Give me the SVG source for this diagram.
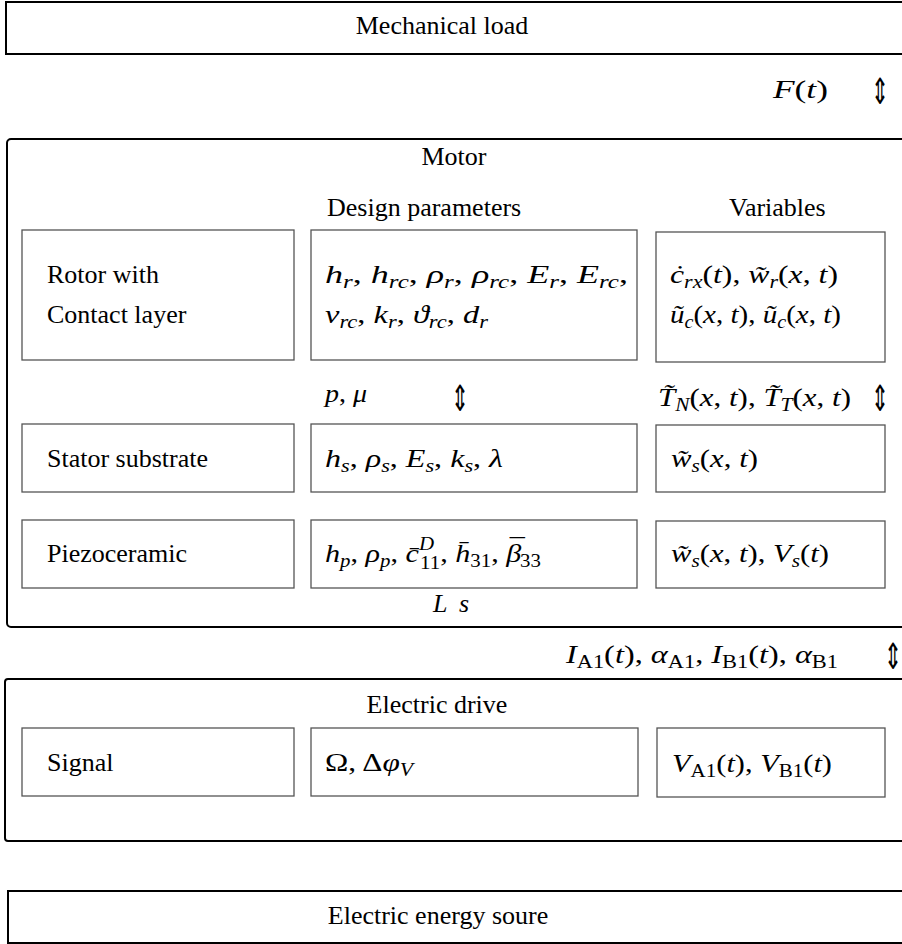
<svg xmlns="http://www.w3.org/2000/svg" width="902" height="944" viewBox="0 0 902 944" font-family="Liberation Serif, Times New Roman, serif">
<style>
.t{font-size:26px;fill:#000}
.m{font-size:26px;font-style:italic;fill:#000}
.u{font-style:normal}
.s{font-size:18px}
.outer{fill:#fff;stroke:#000;stroke-width:2}
.inner{fill:none;stroke:#555;stroke-width:1.3}
.arr{font-family:"DejaVu Sans",sans-serif;font-size:24px;fill:#000;text-anchor:middle}
</style>
<rect width="902" height="944" fill="#fff"/>

<g id="mechanical-load">
<rect class="outer" x="6" y="2" width="910" height="52"/>
<text class="t" x="442" y="34" text-anchor="middle">Mechanical load</text>
</g>

<g id="motor">
<rect class="outer" x="7" y="139" width="910" height="488" rx="4"/>
<text class="t" x="454" y="165" text-anchor="middle">Motor</text>
<text class="t" x="327" y="216">Design parameters</text>
<text class="t" x="729" y="216">Variables</text>
</g>

<g id="rotor">
<rect class="inner" x="22" y="230" width="272" height="130"/>
<text class="t" x="47" y="283">Rotor with</text>
<text class="t" x="47" y="323">Contact layer</text>
</g>
<g id="rotor-parameters">
<rect class="inner" x="311" y="230" width="326" height="130"/>
<text class="m" x="325" y="283" textLength="303" lengthAdjust="spacingAndGlyphs">h<tspan class="s" dy="5">r</tspan><tspan class="u" dy="-5">, </tspan>h<tspan class="s" dy="5">rc</tspan><tspan class="u" dy="-5">, </tspan>ρ<tspan class="s" dy="5">r</tspan><tspan class="u" dy="-5">, </tspan>ρ<tspan class="s" dy="5">rc</tspan><tspan class="u" dy="-5">, </tspan>E<tspan class="s" dy="5">r</tspan><tspan class="u" dy="-5">, </tspan>E<tspan class="s" dy="5">rc</tspan><tspan class="u" dy="-5">,</tspan></text>
<text class="m" x="325" y="323" textLength="163" lengthAdjust="spacingAndGlyphs">ν<tspan class="s" dy="5">rc</tspan><tspan class="u" dy="-5">, </tspan>k<tspan class="s" dy="5">r</tspan><tspan class="u" dy="-5">, </tspan>ϑ<tspan class="s" dy="5">rc</tspan><tspan class="u" dy="-5">, </tspan>d<tspan class="s" dy="5">r</tspan></text>
</g>
<g id="rotor-variables">
<rect class="inner" x="656" y="232" width="229" height="130"/>
<text class="m" x="670" y="283" textLength="168" lengthAdjust="spacingAndGlyphs">ċ<tspan class="s" dy="5">rx</tspan><tspan class="u" dy="-5">(</tspan>t<tspan class="u">), </tspan>w̃<tspan class="s" dy="5">r</tspan><tspan class="u" dy="-5">(</tspan>x<tspan class="u">, </tspan>t<tspan class="u">)</tspan></text>
<text class="m" x="670" y="323" textLength="171" lengthAdjust="spacingAndGlyphs">ũ<tspan class="s" dy="5">c</tspan><tspan class="u" dy="-5">(</tspan>x<tspan class="u">, </tspan>t<tspan class="u">), </tspan>ũ<tspan class="s" dy="5">c</tspan><tspan class="u" dy="-5">(</tspan>x<tspan class="u">, </tspan>t<tspan class="u">)</tspan></text>
</g>

<g id="contact-labels">
<text class="m" x="325" y="402" textLength="42" lengthAdjust="spacingAndGlyphs">p<tspan class="u">, </tspan>μ</text>
<text class="m" x="658" y="406" textLength="193" lengthAdjust="spacingAndGlyphs">T̃<tspan class="s" dy="5">N</tspan><tspan class="u" dy="-5">(</tspan>x<tspan class="u">, </tspan>t<tspan class="u">), </tspan>T̃<tspan class="s" dy="5">T</tspan><tspan class="u" dy="-5">(</tspan>x<tspan class="u">, </tspan>t<tspan class="u">)</tspan></text>
</g>

<g id="stator">
<rect class="inner" x="22" y="424" width="272" height="68"/>
<text class="t" x="47" y="467">Stator substrate</text>
</g>
<g id="stator-parameters">
<rect class="inner" x="311" y="424" width="326" height="68"/>
<text class="m" x="325" y="467" textLength="178" lengthAdjust="spacingAndGlyphs">h<tspan class="s" dy="5">s</tspan><tspan class="u" dy="-5">, </tspan>ρ<tspan class="s" dy="5">s</tspan><tspan class="u" dy="-5">, </tspan>E<tspan class="s" dy="5">s</tspan><tspan class="u" dy="-5">, </tspan>k<tspan class="s" dy="5">s</tspan><tspan class="u" dy="-5">, </tspan>λ</text>
</g>
<g id="stator-variables">
<rect class="inner" x="656" y="425" width="229" height="67"/>
<text class="m" x="671" y="467" textLength="87" lengthAdjust="spacingAndGlyphs">w̃<tspan class="s" dy="5">s</tspan><tspan class="u" dy="-5">(</tspan>x<tspan class="u">, </tspan>t<tspan class="u">)</tspan></text>
</g>

<g id="piezoceramic">
<rect class="inner" x="22" y="520" width="272" height="68"/>
<text class="t" x="47" y="562">Piezoceramic</text>
</g>
<g id="piezo-parameters">
<rect class="inner" x="311" y="520" width="326" height="68"/>
<text class="m" x="325" y="562" textLength="216" lengthAdjust="spacingAndGlyphs">h<tspan class="s" dy="5">p</tspan><tspan class="u" dy="-5">, </tspan>ρ<tspan class="s" dy="5">p</tspan><tspan class="u" dy="-5">, </tspan>c̄<tspan class="s" dy="-12">D</tspan><tspan class="s u" dx="-12" dy="19">11</tspan><tspan class="u" dy="-7">, </tspan>h̄<tspan class="s u" dy="5">31</tspan><tspan class="u" dy="-5">, </tspan>β<tspan class="u" dx="-10" dy="-6">¯</tspan><tspan class="s u" dx="-4" dy="11">33</tspan></text>
</g>
<g id="piezo-variables">
<rect class="inner" x="656" y="521" width="229" height="67"/>
<text class="m" x="671" y="562" textLength="158" lengthAdjust="spacingAndGlyphs">w̃<tspan class="s" dy="5">s</tspan><tspan class="u" dy="-5">(</tspan>x<tspan class="u">, </tspan>t<tspan class="u">), </tspan>V<tspan class="s" dy="5">s</tspan><tspan class="u" dy="-5">(</tspan>t<tspan class="u">)</tspan></text>
</g>
<text class="m" x="433" y="612" textLength="36" lengthAdjust="spacing">L s</text>

<text class="m" x="773" y="98" textLength="55" lengthAdjust="spacingAndGlyphs">F<tspan class="u">(</tspan>t<tspan class="u">)</tspan></text>
<text class="m" x="566" y="663" textLength="272" lengthAdjust="spacingAndGlyphs">I<tspan class="s u" dy="5">A1</tspan><tspan class="u" dy="-5">(</tspan>t<tspan class="u">), </tspan>α<tspan class="s u" dy="5">A1</tspan><tspan class="u" dy="-5">, </tspan>I<tspan class="s u" dy="5">B1</tspan><tspan class="u" dy="-5">(</tspan>t<tspan class="u">), </tspan>α<tspan class="s u" dy="5">B1</tspan></text>

<g id="electric-drive">
<rect class="outer" x="5" y="679" width="910" height="162" rx="3"/>
<text class="t" x="437" y="713" text-anchor="middle">Electric drive</text>
</g>
<g id="signal">
<rect class="inner" x="22" y="728" width="272" height="68"/>
<text class="t" x="47" y="771">Signal</text>
</g>
<g id="signal-parameters">
<rect class="inner" x="311" y="728" width="327" height="68"/>
<text class="m" x="325" y="771" textLength="88" lengthAdjust="spacingAndGlyphs"><tspan class="u">Ω, Δ</tspan>φ<tspan class="s" dy="5">V</tspan></text>
</g>
<g id="signal-variables">
<rect class="inner" x="657" y="728" width="228" height="69"/>
<text class="m" x="672" y="772" textLength="160" lengthAdjust="spacingAndGlyphs">V<tspan class="s u" dy="5">A1</tspan><tspan class="u" dy="-5">(</tspan>t<tspan class="u">), </tspan>V<tspan class="s u" dy="5">B1</tspan><tspan class="u" dy="-5">(</tspan>t<tspan class="u">)</tspan></text>
</g>

<g id="electric-energy-source">
<rect class="outer" x="8" y="891" width="910" height="52"/>
<text class="t" x="438" y="924" text-anchor="middle">Electric energy soure</text>
</g>

<g id="connectors">
<text class="arr" transform="translate(880,104) scale(0.9,1.5)">⇕</text>
<text class="arr" transform="translate(460,411) scale(0.9,1.5)">⇕</text>
<text class="arr" transform="translate(880,411) scale(0.9,1.5)">⇕</text>
<text class="arr" transform="translate(893,669) scale(0.9,1.5)">⇕</text>
</g>
</svg>
